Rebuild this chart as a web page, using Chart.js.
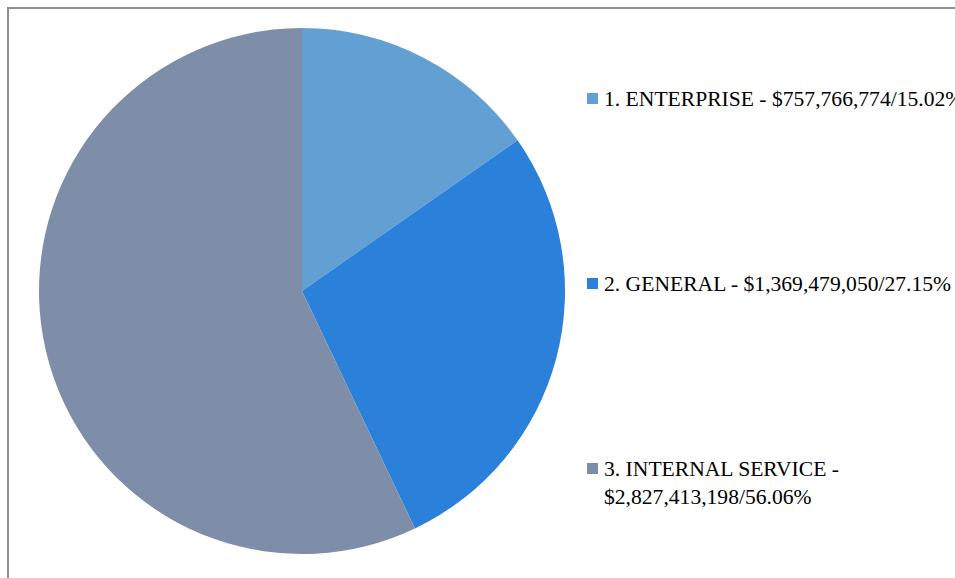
<!DOCTYPE html>
<html>
<head>
<meta charset="utf-8">
<script src="https://cdn.jsdelivr.net/npm/chart.js@4"></script>
<style>
	html, body { margin: 0; padding: 0; background: #fff; overflow: hidden; }
	body { width: 955px; height: 578px; position: relative; }
	#frame { position: absolute; left: 7px; top: 7px; width: 2000px; height: 2000px; border: 2px solid #8e8e8e; }
	#pieBox { position: absolute; left: 39px; top: 28px; width: 526px; height: 526px; }
	#legend { position: absolute; left: 587px; top: 0; font-family: 'Liberation Serif', 'Times New Roman', serif; font-size: 21.6px; color: #000; }
	.item { position: absolute; left: 0; white-space: nowrap; line-height: 28px; }
	.box { position: absolute; left: 0; top: 8.5px; width: 11px; height: 11px; }
	.txt { margin-left: 17px; }
</style>
</head>
<body>
<div id="frame"></div>
<div id="pieBox"><canvas id="pie"></canvas></div>
<div id="legend"></div>
<script>
var categories = ['1. ENTERPRISE', '2. GENERAL', '3. INTERNAL SERVICE'];
var amounts = [757766774, 1369479050, 2827413198];
var percents = ['15.02', '27.15', '56.06'];
var colors = ['#629FD3', '#2B80DA', '#7F8EA8'];

// legend rows sit at these tops (text box top)
var legendTops = [84.5, 269.5, 454.5];

var legend = document.getElementById('legend');
categories.forEach(function (name, i) {
	var item = document.createElement('div');
	item.className = 'item';
	item.style.top = legendTops[i] + 'px';
	var box = document.createElement('div');
	box.className = 'box';
	box.style.background = colors[i];
	var txt = document.createElement('div');
	txt.className = 'txt';
	var money = '$' + amounts[i].toLocaleString('en-US') + '/' + percents[i] + '%';
	if (i === 2) {
		txt.innerHTML = name + ' -<br>' + money;
	} else {
		txt.textContent = name + ' - ' + money;
	}
	item.appendChild(box);
	item.appendChild(txt);
	legend.appendChild(item);
});

new Chart(document.getElementById('pie'), {
	type: 'pie',
	data: {
		labels: categories,
		datasets: [{
			data: amounts,
			backgroundColor: colors,
			borderWidth: 0
		}]
	},
	options: {
		responsive: true,
		maintainAspectRatio: false,
		animation: false,
		layout: { padding: 0 },
		plugins: {
			legend: { display: false },
			tooltip: { enabled: false }
		}
	}
});
</script>
</body>
</html>
